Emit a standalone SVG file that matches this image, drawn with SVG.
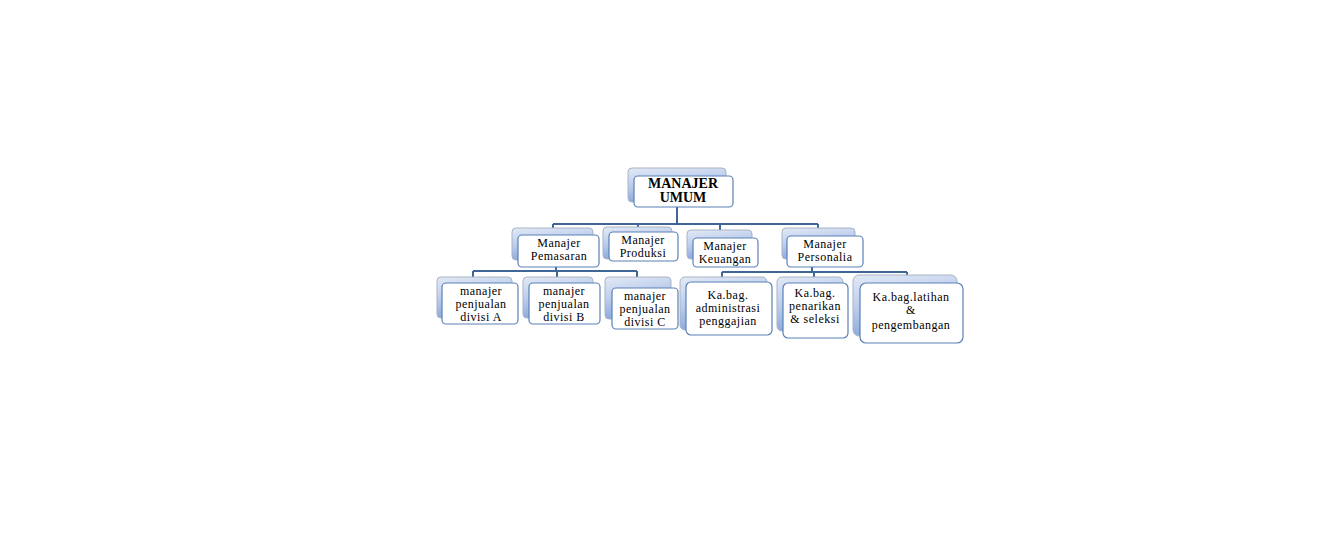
<svg xmlns="http://www.w3.org/2000/svg" width="1341" height="560" viewBox="0 0 1341 560">
<defs>
<linearGradient id="bg" x1="0" y1="0" x2="0.3" y2="1">
<stop offset="0" stop-color="#e3eaf6"/>
<stop offset="0.5" stop-color="#bccdec"/>
<stop offset="1" stop-color="#86a4dc"/>
</linearGradient>
<style>
.back{fill:url(#bg);stroke:#a9b3c4;stroke-width:1}
.front{fill:#ffffff;stroke:#5a80b8;stroke-width:1.2}
.t{font-family:"Liberation Serif","Times New Roman",serif;font-size:12px;letter-spacing:0.5px;fill:#000;text-anchor:middle}
.tb{font-family:"Liberation Serif","Times New Roman",serif;font-size:14px;font-weight:bold;fill:#000;text-anchor:middle}
.c{fill:none;stroke:#3f6696;stroke-width:2}
</style>
</defs>
<rect width="1341" height="560" fill="#ffffff"/>
<g id="connectors">
<path class="c" d="M677 207 V224 M553 224 H818 M553 224 V229 M638 224 V228 M720 224 V231 M818 224 V229"/>
<path class="c" d="M556 267 V271 M473 271 H637 M473 271 V278 M557 271 V278 M637 271 V278"/>
<path class="c" d="M812 267 V272 M722 272 H907 M722 272 V278 M814 272 V278 M907 272 V277"/>
</g>
<g id="manajer-umum">
<rect class="back" x="628" y="168" width="98" height="34" rx="4"/>
<rect class="front" x="634" y="176" width="99" height="31" rx="4"/>
<text class="tb" x="683" y="188">MANAJER</text>
<text class="tb" x="683" y="202">UMUM</text>
</g>
<g id="pemasaran">
<rect class="back" x="512" y="228" width="81" height="32" rx="4"/>
<rect class="front" x="518" y="235" width="81" height="32" rx="4"/>
<text class="t" x="559" y="247">Manajer</text>
<text class="t" x="559" y="260">Pemasaran</text>
</g>
<g id="produksi">
<rect class="back" x="603" y="227" width="69" height="32" rx="4"/>
<rect class="front" x="609" y="232" width="69" height="29" rx="4"/>
<text class="t" x="643" y="244">Manajer</text>
<text class="t" x="643" y="257">Produksi</text>
</g>
<g id="keuangan">
<rect class="back" x="687" y="230" width="65" height="29" rx="4"/>
<rect class="front" x="693" y="238" width="65" height="29" rx="4"/>
<text class="t" x="725" y="250">Manajer</text>
<text class="t" x="725" y="263">Keuangan</text>
</g>
<g id="personalia">
<rect class="back" x="782" y="228" width="73" height="31" rx="4"/>
<rect class="front" x="787" y="236" width="76" height="31" rx="4"/>
<text class="t" x="825" y="248">Manajer</text>
<text class="t" x="825" y="261">Personalia</text>
</g>
<g id="divisi-a">
<rect class="back" x="437" y="277" width="75" height="41" rx="4"/>
<rect class="front" x="442" y="283" width="76" height="41" rx="4"/>
<text class="t" x="481" y="295">manajer</text>
<text class="t" x="481" y="308">penjualan</text>
<text class="t" x="481" y="321">divisi A</text>
</g>
<g id="divisi-b">
<rect class="back" x="523" y="277" width="70" height="41" rx="4"/>
<rect class="front" x="529" y="283" width="71" height="41" rx="4"/>
<text class="t" x="564" y="295">manajer</text>
<text class="t" x="564" y="308">penjualan</text>
<text class="t" x="564" y="321">divisi B</text>
</g>
<g id="divisi-c">
<rect class="back" x="605" y="277" width="66" height="42" rx="4"/>
<rect class="front" x="612" y="288" width="66" height="41" rx="4"/>
<text class="t" x="645" y="300">manajer</text>
<text class="t" x="645" y="313">penjualan</text>
<text class="t" x="645" y="326">divisi C</text>
</g>
<g id="administrasi">
<rect class="back" x="680" y="277" width="87" height="53" rx="5"/>
<rect class="front" x="686" y="282" width="86" height="53" rx="5"/>
<text class="t" x="728" y="299">Ka.bag.</text>
<text class="t" x="728" y="312">administrasi</text>
<text class="t" x="728" y="325">penggajian</text>
</g>
<g id="penarikan">
<rect class="back" x="777" y="277" width="66" height="54" rx="5"/>
<rect class="front" x="783" y="283" width="65" height="55" rx="5"/>
<text class="t" x="815" y="297">Ka.bag.</text>
<text class="t" x="815" y="310">penarikan</text>
<text class="t" x="815" y="323">&amp; seleksi</text>
</g>
<g id="latihan">
<rect class="back" x="853" y="275" width="104" height="61" rx="6"/>
<rect class="front" x="860" y="283" width="103" height="60" rx="6"/>
<text class="t" x="911" y="301">Ka.bag.latihan</text>
<text class="t" x="911" y="314">&amp;</text>
<text class="t" x="911" y="329">pengembangan</text>
</g>
</svg>
